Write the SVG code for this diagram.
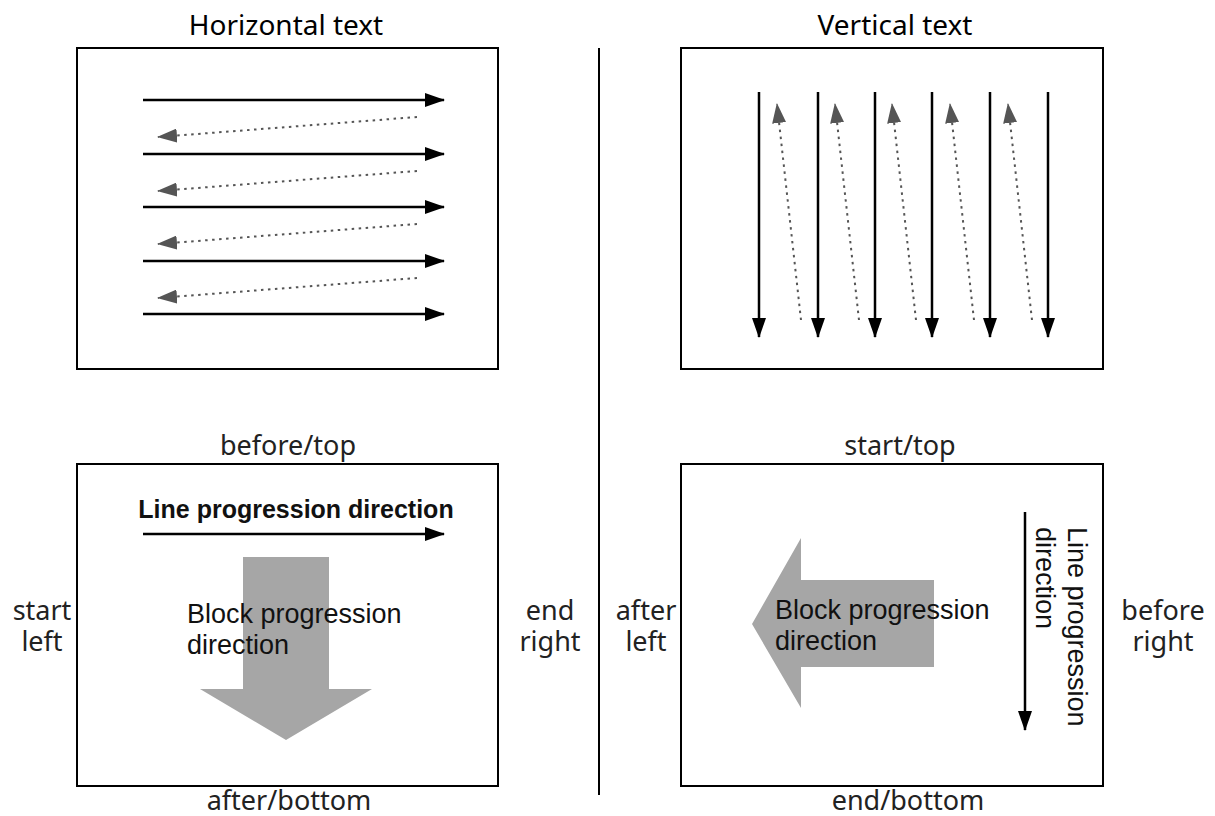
<svg xmlns="http://www.w3.org/2000/svg" width="1215" height="816" viewBox="0 0 1215 816">
<style>
.box{fill:#fff;stroke:#000;stroke-width:2}
.sol{stroke:#000;stroke-width:2.5;fill:none}
.dot{stroke:#555;stroke-width:2;stroke-dasharray:2.5 4.5;fill:none}
.lbl{font-family:"Noto Sans","Liberation Sans",sans-serif;font-size:27px;fill:#222;text-anchor:middle}
.ttl{font-family:"Noto Sans","Liberation Sans",sans-serif;font-size:28px;fill:#000;text-anchor:middle}
.blk{font-family:"Liberation Sans",Arial,sans-serif;font-size:27px;fill:#111}
.gray{fill:#a6a6a6}
</style>
<defs>
<marker id="ah" markerWidth="20" markerHeight="14" refX="19" refY="7" orient="auto" markerUnits="userSpaceOnUse"><path d="M0,0 L20,7 L0,14 Z" fill="#000"/></marker>
<marker id="ahg" markerWidth="20" markerHeight="14" refX="19" refY="7" orient="auto" markerUnits="userSpaceOnUse"><path d="M0,0 L20,7 L0,14 Z" fill="#555"/></marker>
</defs>
<rect width="1215" height="816" fill="#fff"/>
<g id="divider"><line x1="599" y1="48" x2="599" y2="795" stroke="#000" stroke-width="2"/></g>
<g id="horizontal-panel">
<text class="ttl" x="286" y="35">Horizontal text</text>
<rect class="box" x="77" y="48" width="421" height="321"/>
</g>
<g id="vertical-panel">
<text class="ttl" x="895" y="35">Vertical text</text>
<rect class="box" x="681" y="48" width="422" height="321"/>
</g>
<g id="horizontal-directions">
<text class="lbl" x="288" y="455">before/top</text>
<rect class="box" x="77" y="464" width="421" height="322"/>
<text x="296" y="518" text-anchor="middle" font-family="'Liberation Sans',Arial,sans-serif" font-size="25" font-weight="bold" fill="#111">Line progression direction</text>
<path class="gray" d="M243,557 H329 V689 H372 L286,740 L200,689 H243 Z"/>
<text class="blk" x="187" y="623">Block progression</text>
<text class="blk" x="187" y="654">direction</text>
<text class="lbl" x="42" y="620">start</text>
<text class="lbl" x="42" y="651">left</text>
<text class="lbl" x="550" y="620">end</text>
<text class="lbl" x="550" y="651">right</text>
<text class="lbl" x="289" y="810">after/bottom</text>
</g>
<g id="vertical-directions">
<text class="lbl" x="900" y="455">start/top</text>
<rect class="box" x="681" y="464" width="422" height="322"/>
<path class="gray" d="M934,580 V667 H801 V708 L752,624 L801,538 V580 Z"/>
<text class="blk" x="775" y="619">Block progression</text>
<text class="blk" x="775" y="650">direction</text>
<text class="blk" transform="translate(1068,527) rotate(90)">Line progression</text>
<text class="blk" transform="translate(1036,527) rotate(90)">direction</text>
<text class="lbl" x="646" y="620">after</text>
<text class="lbl" x="646" y="651">left</text>
<text class="lbl" x="1163" y="620">before</text>
<text class="lbl" x="1163" y="651">right</text>
<text class="lbl" x="908" y="810">end/bottom</text>
</g>
<g id="connectors">
<line class="sol" x1="143" y1="100" x2="444" y2="100" marker-end="url(#ah)"/>
<line class="sol" x1="143" y1="154" x2="444" y2="154" marker-end="url(#ah)"/>
<line class="sol" x1="143" y1="207" x2="444" y2="207" marker-end="url(#ah)"/>
<line class="sol" x1="143" y1="261" x2="444" y2="261" marker-end="url(#ah)"/>
<line class="sol" x1="143" y1="314" x2="444" y2="314" marker-end="url(#ah)"/>
<line class="dot" x1="417" y1="117" x2="158" y2="137" marker-end="url(#ahg)"/>
<line class="dot" x1="417" y1="171" x2="158" y2="191" marker-end="url(#ahg)"/>
<line class="dot" x1="417" y1="224" x2="158" y2="244" marker-end="url(#ahg)"/>
<line class="dot" x1="417" y1="278" x2="158" y2="298" marker-end="url(#ahg)"/>
<line class="sol" x1="759" y1="92" x2="759" y2="337" marker-end="url(#ah)"/>
<line class="sol" x1="818" y1="92" x2="818" y2="337" marker-end="url(#ah)"/>
<line class="sol" x1="875" y1="92" x2="875" y2="337" marker-end="url(#ah)"/>
<line class="sol" x1="932" y1="92" x2="932" y2="337" marker-end="url(#ah)"/>
<line class="sol" x1="990" y1="92" x2="990" y2="337" marker-end="url(#ah)"/>
<line class="sol" x1="1048" y1="92" x2="1048" y2="337" marker-end="url(#ah)"/>
<line class="dot" x1="801" y1="320" x2="777" y2="104" marker-end="url(#ahg)"/>
<line class="dot" x1="859" y1="320" x2="835" y2="104" marker-end="url(#ahg)"/>
<line class="dot" x1="916" y1="320" x2="892" y2="104" marker-end="url(#ahg)"/>
<line class="dot" x1="974" y1="320" x2="950" y2="104" marker-end="url(#ahg)"/>
<line class="dot" x1="1032" y1="320" x2="1008" y2="104" marker-end="url(#ahg)"/>
<line class="sol" x1="143" y1="534" x2="444" y2="534" marker-end="url(#ah)"/>
<line class="sol" x1="1025" y1="512" x2="1025" y2="730" marker-end="url(#ah)"/>
</g>
</svg>
